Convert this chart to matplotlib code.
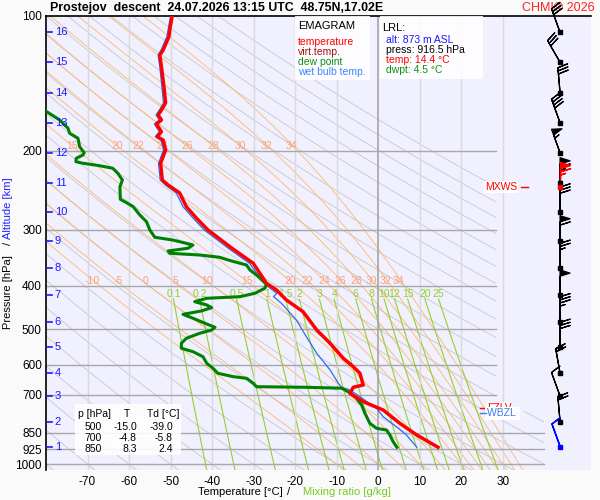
import numpy as np
import matplotlib
matplotlib.use('Agg')
import matplotlib.pyplot as plt
import matplotlib.transforms as mtransforms
from matplotlib.patches import Rectangle, Polygon
from matplotlib.ticker import NullLocator

plt.rcParams['font.family'] = ['Liberation Sans', 'DejaVu Sans']
plt.rcParams['axes.unicode_minus'] = False

# temperature profile (hPa, degC)
temp_p = [100, 107.6, 111.4, 119.3, 122.4, 129.9, 144.0, 156.5, 162.3, 166.5, 170.8, 174.4, 181.4, 186.1,
          189.3, 199.2, 213.3, 232.4, 238.5, 248.5, 266.6, 282.5, 300.4, 329.5, 356.4, 395.0, 408.8, 430.4,
          457.0, 502.0, 537.4, 580.5, 606.1, 626.9, 665.8, 673.7, 694.8, 725.4, 757.0, 810.5, 860.7, 916.5]
temp_t = [-49.6, -50.2, -50.4, -51.8, -52.6, -52.2, -51.6, -51.2, -52.2, -53.0, -52.2, -53.4, -52.2, -53.2,
          -51.8, -51.2, -52.4, -52.0, -50.6, -47.8, -46.2, -43.8, -41.0, -35.3, -30.1, -26.9, -24.5, -22.1,
          -18.1, -14.8, -11.6, -8.4, -6.0, -4.4, -3.6, -6.0, -6.8, -3.6, 1.2, 5.2, 9.3, 14.4]

# dew point profile
dew_p = [160, 170.8, 178.2, 182.9, 187.6, 195.9, 202.1, 204.4, 207.9, 211.6, 213.3, 216.0, 218.9, 224.6, 232.4,
         240.6, 256.6, 261.2, 266.6, 278.2, 287.9, 300.4, 311.9, 316.3, 321.7, 324.5, 330.0, 334.6, 338.6, 341.6,
         345.6, 350.5, 356.4, 359.6, 368.9, 378.5, 397.0, 405.2, 415.8, 423.1, 426.6, 434.1, 441.5, 447.6, 455.3,
         463.2, 472.7, 486.8, 495.1, 502.0, 510.6, 523.8, 537.4, 551.4, 561.1, 575.7, 595.5, 611.0, 626.9, 638.0,
         643.2, 660.0, 671.6, 673.7, 676.8, 692.6, 712.9, 737.6, 769.8, 810.5, 831.6, 838.9, 860.7, 890.8, 916.5]
dew_t = [-81.5, -76.7, -74.7, -74.3, -72.3, -71.9, -70.8, -71.1, -72.7, -72.8, -71.1, -67.1, -63.9, -62.7, -61.6,
         -62.2, -62.1, -60.6, -59.0, -57.4, -55.8, -55.0, -53.8, -49.5, -46.2, -44.6, -45.8, -50.6, -50.2, -43.0,
         -38.2, -36.1, -33.3, -31.7, -30.9, -29.3, -26.9, -27.3, -29.7, -33.3, -41.3, -44.2, -41.3, -40.1, -42.6,
         -47.0, -44.6, -41.3, -39.3, -40.1, -43.0, -46.2, -47.4, -47.4, -44.6, -42.2, -41.3, -39.8, -38.6, -34.9,
         -31.7, -30.1, -29.3, -17.3, -8.8, -6.8, -5.2, -4.0, -3.2, -2.0, -0.4, 2.0, 2.8, 3.6, 4.5]

# wet bulb temperature
wb_p = [100, 107.6, 111.4, 119.3, 122.4, 129.9, 144.0, 156.5, 162.3, 166.5, 170.8, 174.4, 181.4, 186.1, 189.3,
        199.2, 213.3, 232.4, 238.5, 248.5, 266.6, 282.5, 300.4, 329.5, 356.4, 380.0, 398.5, 408.0, 416.0, 423.0,
        437.7, 476.9, 519.6, 565.8, 616.1, 660.0, 673.7, 683.1, 707.0, 750.4, 783.5, 824.8, 860.7, 916.5]
wb_t = [-50.0, -50.6, -50.9, -52.3, -53.0, -52.6, -52.1, -51.7, -52.7, -53.5, -52.7, -53.9, -52.7, -53.7, -52.3,
        -51.7, -52.9, -52.5, -51.2, -48.6, -47.0, -44.6, -41.9, -36.2, -31.0, -28.8, -27.0, -25.6, -24.4, -25.2,
        -23.3, -19.7, -17.3, -14.8, -11.6, -9.6, -8.8, -6.8, -4.4, -0.4, 1.2, 4.4, 6.8, 9.3]

# altitude scale (km -> hPa)
alt_km = [16, 15, 14, 13, 12, 11, 10, 9, 8, 7, 6, 5, 4, 3, 2, 1]
alt_p = [108.9, 127.0, 148.5, 173.2, 202.1, 235.7, 273.9, 317.4, 365.7, 419.4, 481.1, 548.7, 626.9, 704.5,
         803.9, 913.9]

# wind (16..2 km, then surface)
wind_p = alt_p[:15] + [916.5]
wind_dir = [340, 330, 355, 340, 340, 0, 0, 0, 0, 0, 0, 0, 350, 340, 355, 340]
wind_spd = [30, 30, 30, 40, 55, 65, 30, 60, 25, 50, 35, 30, 20, 10, 20, 10]
mxws_p, mxws_spd = 240.6, 65
fzlv_p, wbzl_p = 748, 770

# small table
tab_p = [500, 700, 850]
tab_t = [-15.0, -4.8, 8.3]
tab_td = [-39.0, -5.8, 2.4]

p_ticks = [100, 200, 300, 400, 500, 600, 700, 850, 925, 1000]
t_ticks = [-70, -60, -50, -40, -30, -20, -10, 0, 10, 20, 30]
theta_w = [-10, -5, 0, 5, 10, 15, 20, 22, 24, 26, 28, 30, 32, 34]
mix_r = [0.1, 0.2, 0.5, 1, 1.5, 2, 3, 4, 6, 8, 10, 12, 15, 20, 25]

W, H = 600, 500


def fx(x):
    return x / W


def fy(y):
    return 1 - y / H


def moist_adiabat(tw, p):
    Rd, cp, Lv, eps = 287.04, 1005.7, 2.501e6, 0.622

    def slope(tk, pr):
        tc = tk - 273.15
        es = 6.112 * np.exp(17.67 * tc / (tc + 243.5))
        rs = eps * es / (pr - es)
        return (Rd * tk + Lv * rs) / (cp + Lv ** 2 * rs * eps / (Rd * tk ** 2))

    out = [tw + 273.15]
    for i in range(1, len(p)):
        h = np.log(p[i] / p[i - 1])
        tk, pr = out[-1], p[i - 1]
        pm = pr * np.exp(h / 2)
        k1 = slope(tk, pr)
        k2 = slope(tk + h / 2 * k1, pm)
        k3 = slope(tk + h / 2 * k2, pm)
        k4 = slope(tk + h * k3, p[i])
        out.append(tk + h / 6 * (k1 + 2 * k2 + 2 * k3 + k4))
    return np.array(out) - 273.15


fig = plt.figure(figsize=(6, 5), dpi=100, facecolor='#fafafa')
ax = fig.add_axes([fx(46), fy(470), 545 / W, (470 - 15.7) / H])
ax.set_facecolor('#f0f0ff')
ax.set_yscale('log')
ax.set_xlim(-80, 51.25)
ax.set_ylim(1030, 100)
for s in ['right', 'bottom']:
    ax.spines[s].set_visible(False)
for s in ['left', 'top']:
    ax.spines[s].set_linewidth(1.2)

ax.set_yticks(p_ticks)
ax.set_yticklabels([str(p) for p in p_ticks])
ax.yaxis.set_minor_locator(NullLocator())
ax.set_xticks(t_ticks)
ax.set_xticklabels([str(t) for t in t_ticks])
ax.tick_params(length=0, labelsize=8.5)
ax.tick_params(axis='y', pad=3)
ax.tick_params(axis='x', pad=4)

clip = Polygon([(-80, 90), (28.4, 90), (28.4, 760), (40, 760), (40, 1100), (-80, 1100)],
               closed=True, transform=ax.transData, fc='none', ec='none')

# dry adiabats
pp = np.geomspace(95, 1100, 300)
for th in range(-80, 190, 10):
    tt = (th + 273.15) * (pp / 1000) ** 0.286 - 273.15
    ln, = ax.plot(tt, pp, color='#c8c8c8', lw=0.6, zorder=1)
    ln.set_clip_path(clip)

# saturated adiabats
p_up = np.geomspace(1000, 95, 300)
p_dn = np.geomspace(1000, 1100, 20)
for tw in theta_w:
    t_up = moist_adiabat(tw, p_up)
    t_dn = moist_adiabat(tw, p_dn)
    ln, = ax.plot(np.r_[t_dn[::-1], t_up], np.r_[p_dn[::-1], p_up], color='#ffb868', lw=0.6, zorder=1.2)
    ln.set_clip_path(clip)
    for lev in (400, 200):
        tl = np.interp(np.log(lev), np.log(p_up[::-1]), t_up[::-1])
        if -76 < tl < 27:
            ax.text(tl, lev, str(tw), color='#ffa07a', fontsize=7.5, ha='right', va='bottom', zorder=3)

# mixing ratio lines
pm_ = np.geomspace(428, 1100, 60)
for r in mix_r:
    e = r * pm_ / (622 + r)
    le = np.log(e / 6.112)
    tr = 243.5 * le / (17.67 - le)
    ax.plot(tr, pm_, color='#96d02a', lw=0.8, zorder=1.4)
    ax.text(tr[0], 428, '%g' % r, color='#96d02a', fontsize=7.5, ha='center', va='bottom', zorder=3)

# grid
for t in t_ticks:
    ax.axvline(t, color='#a0a0a0' if t == 0 else '#dadada', lw=1.1 if t == 0 else 1.0, zorder=1.5)
for p in p_ticks[1:]:
    ax.plot([-80, 28.4 if p <= 700 else 40], [p, p], color='#a8a8a8', lw=1.0, zorder=1.6)

# profiles
ax.plot(wb_t, wb_p, color='#2a6cf0', lw=0.9, zorder=4)
ax.plot(dew_t, dew_p, color='#008000', lw=2.2, zorder=5)
ax.plot(temp_t, temp_p, color='#ff0000', lw=2.5, zorder=6)

# altitude scale
trans = mtransforms.blended_transform_factory(ax.transAxes, ax.transData)
for km, p in zip(alt_km, alt_p):
    ax.plot([0.002, 0.011], [p, p], transform=trans, color='#1a1aff', lw=1.2, clip_on=False, zorder=7)
    ax.text(0.016, p, str(km), transform=trans, color='#1a1aff', fontsize=8, va='center', ha='left', zorder=7)

# wind barbs
xw = 43.8
d = np.radians(wind_dir)
u = -np.array(wind_spd) * np.sin(d)
v = -np.array(wind_spd) * np.cos(d)
blen = 6
ax.barbs(np.full(15, xw), wind_p[:15], u[:15], v[:15], length=blen, lw=0.9, color='k', clip_on=False, zorder=8)
ax.barbs([xw], [wind_p[15]], u[15:], v[15:], length=blen, lw=1.0, color='#0000ff', clip_on=False, zorder=8)
ax.barbs([xw], [mxws_p], [0], [-mxws_spd], length=blen, lw=1.0, color='red', clip_on=False, zorder=8.5)
ax.plot(np.full(15, xw), wind_p[:15], 's', ms=2.6, color='k', zorder=9)
ax.plot([xw], [wind_p[15]], 's', ms=2.6, color='#0000ff', zorder=9)
ax.plot([xw], [mxws_p], 's', ms=2.6, color='red', zorder=9)

# level marks
ax.text(33.4, mxws_p, 'MXWS', color='red', fontsize=7.5, ha='right', va='center', zorder=7,
        bbox=dict(fc='white', ec='none', pad=0.6))
ax.plot([34.3, 36.0], [mxws_p, mxws_p], color='red', lw=1.0, zorder=7)
ax.text(26.2, fzlv_p, 'FZLV', color='red', fontsize=7.5, ha='left', va='center', zorder=7,
        bbox=dict(fc='white', ec='none', pad=0.6))
ax.plot([24.5, 26.0], [fzlv_p, fzlv_p], color='red', lw=1.0, zorder=7)
ax.text(26.2, wbzl_p, 'WBZL ', color='#3a7aee', fontsize=7.5, ha='left', va='center', zorder=7.2,
        bbox=dict(fc='white', ec='none', pad=1.2))
ax.plot([24.6, 26.0], [wbzl_p, wbzl_p], color='#3a7aee', lw=1.0, zorder=7.3)

# info boxes
for x0, y0, x1, y1 in [(295, 15.7, 370, 80), (380, 15.7, 483, 79), (75, 404, 181, 455)]:
    ax.add_patch(Rectangle((fx(x0), fy(y1)), (x1 - x0) / W, (y1 - y0) / H, transform=fig.transFigure,
                           fc='white', ec='none', alpha=0.88, zorder=7))


def ftext(x, y, s, **kw):
    kw.setdefault('fontsize', 7.5)
    kw.setdefault('va', 'center')
    ax.text(fx(x), fy(y), s, transform=fig.transFigure, zorder=8, clip_on=False, **kw)


ftext(298, 26, 'EMAGRAM', color='black', fontsize=8)
ftext(298, 42, 'temperature', color='#ff0000')
ftext(298, 52, 'virt.temp.', color='#a01010')
ftext(298, 62, 'dew point', color='#109010')
ftext(298, 72, 'wet bulb temp.', color='#3a86ff')
ftext(382, 28, 'LRL:', color='black', fontsize=8)
ftext(386, 40, 'alt: 873 m ASL', color='#1a1aff')
ftext(386, 50, 'press: 916.5 hPa', color='black')
ftext(386, 60, 'temp: 14.4 °C', color='#ff0000')
ftext(386, 70, 'dwpt: 4.5 °C', color='#109010')

ftext(78, 414, 'p [hPa]', color='black')
ftext(127, 414, 'T', color='black', ha='center')
ftext(147, 414, 'Td [°C]', color='black')
for i, (p, t, td) in enumerate(zip(tab_p, tab_t, tab_td)):
    y = 426.7 + 11 * i
    ftext(102, y, str(p), ha='right')
    ftext(137, y, '%.1f' % t, ha='right')
    ftext(173, y, '%.1f' % td, ha='right')

ax.text(fx(595), fy(8), 'CHMI© 2026', transform=fig.transFigure, color='#ff2020', fontsize=9,
        ha='right', va='center', zorder=0.5, clip_on=False)
fig.text(fx(50), fy(8), 'Prostejov  descent  24.07.2026 13:15 UTC  48.75N,17.02E', fontsize=8.9,
         fontweight='bold', ha='left', va='center')

# axis labels
fig.text(fx(197.7), fy(492), 'Temperature [°C]', fontsize=8, ha='left', va='center')
fig.text(fx(288.5), fy(492), '/', fontsize=8, ha='center', va='center')
fig.text(fx(302.7), fy(492), 'Mixing ratio [g/kg]', fontsize=8, ha='left', va='center', color='#77cc22')
fig.text(fx(8), fy(292.5), 'Pressure [hPa]', fontsize=8, rotation=90, ha='center', va='center')
fig.text(fx(8), fy(243.3), '/', fontsize=8, rotation=90, ha='center', va='center')
fig.text(fx(8), fy(208), 'Altitude [km]', fontsize=8, rotation=90, ha='center', va='center', color='#2222ff')

fig.savefig('out.png', dpi=100, facecolor=fig.get_facecolor())
